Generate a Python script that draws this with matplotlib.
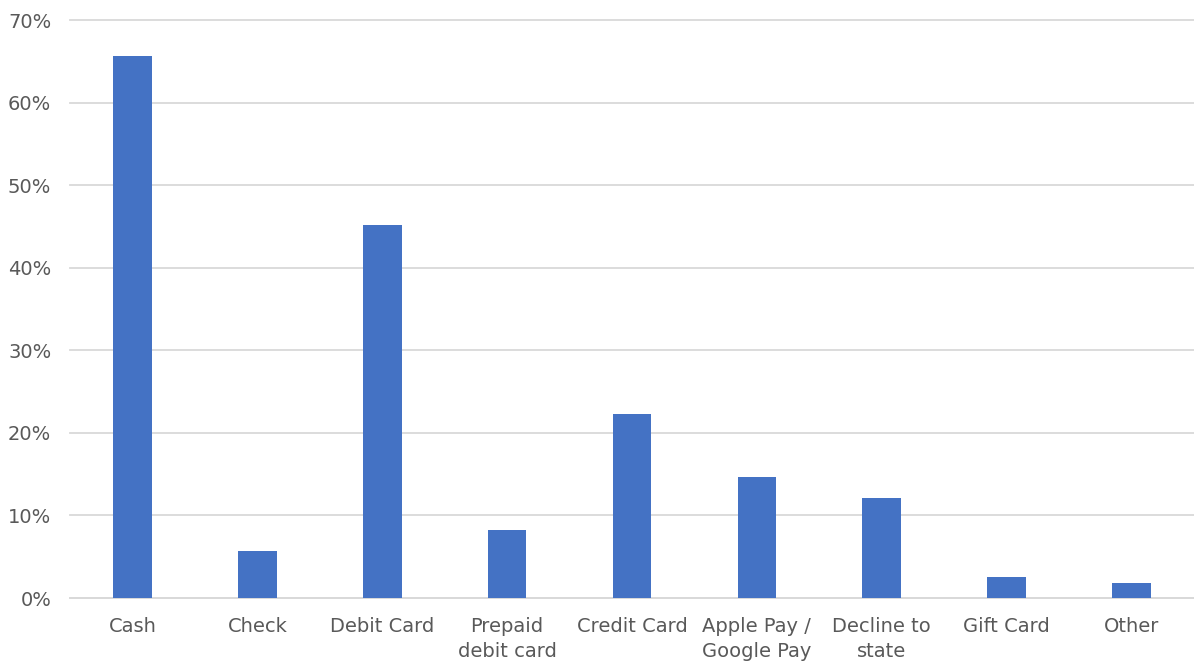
import matplotlib.pyplot as plt
import numpy as np
from matplotlib.ticker import PercentFormatter

categories = ['Cash', 'Check', 'Debit Card', 'Prepaid\ndebit card', 'Credit Card',
              'Apple Pay /\nGoogle Pay', 'Decline to\nstate', 'Gift Card', 'Other']
values = [65.6, 5.7, 45.2, 8.2, 22.3, 14.6, 12.1, 2.5, 1.8]
y_ticks = [0, 10, 20, 30, 40, 50, 60, 70]

plt.rcParams['font.family'] = ['DejaVu Sans']
text_color = '#595959'

fig = plt.figure(figsize=(11.94, 6.66), dpi=100)
ax = fig.add_axes([70 / 1194, 1 - 598 / 666, 1 - 70 / 1194, (598 - 20) / 666])

x = np.arange(len(categories))
ax.bar(x, values, width=0.31, color='#4472C4', zorder=3)

ax.set_xlim(-0.5, len(categories) - 0.5)
ax.set_ylim(0, 70)
ax.set_yticks(y_ticks)
ax.yaxis.set_major_formatter(PercentFormatter(decimals=0))
ax.set_xticks(x)
ax.set_xticklabels(categories, linespacing=1.4)

ax.grid(axis='y', color='#d9d9d9', linewidth=1.3, zorder=0)
for line in ax.get_ygridlines():
    line.set_clip_on(False)
for side in ['top', 'right', 'left']:
    ax.spines[side].set_visible(False)
ax.spines['bottom'].set_color('#d9d9d9')
ax.spines['bottom'].set_linewidth(1.3)
ax.tick_params(axis='both', length=0, labelsize=14, colors=text_color)
ax.tick_params(axis='x', pad=14)
ax.tick_params(axis='y', pad=13.5)

fig.savefig('out.png', dpi=100)
